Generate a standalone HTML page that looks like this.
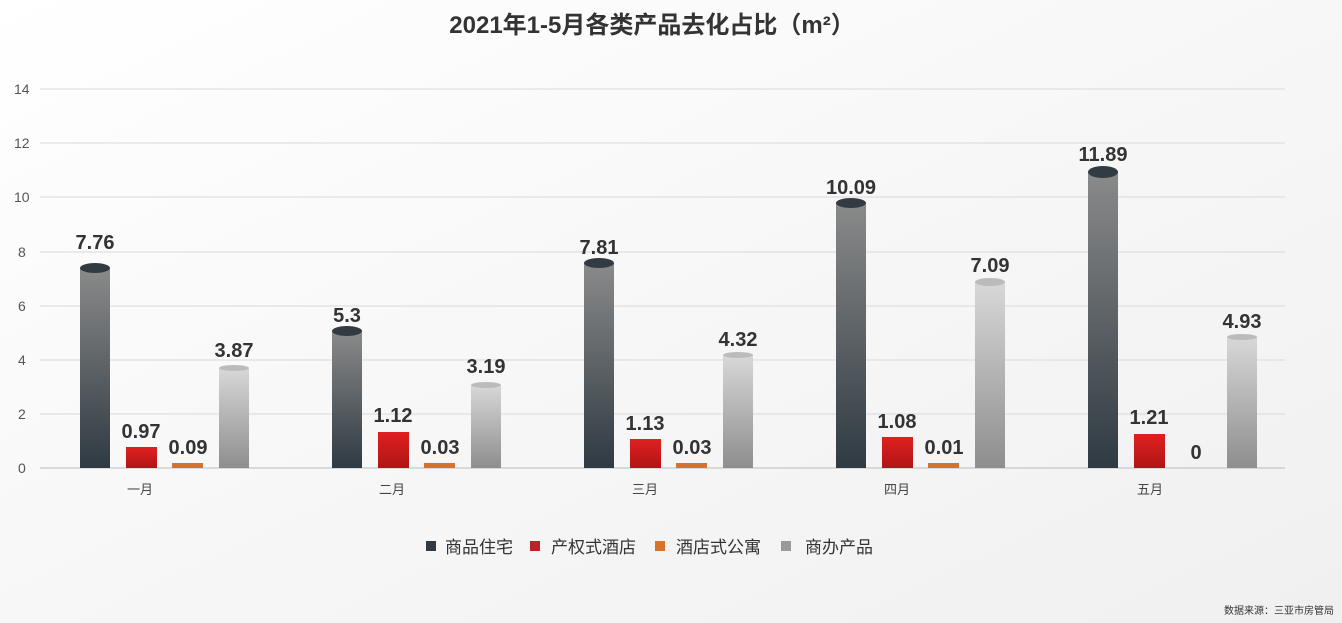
<!DOCTYPE html>
<html><head><meta charset="utf-8"><style>
body{margin:0;background:#fff;}
svg{display:block;font-family:"Liberation Sans","Noto Sans CJK SC",sans-serif;}
</style></head><body>
<svg width="1342" height="623" viewBox="0 0 1342 623" xmlns="http://www.w3.org/2000/svg">
<defs>
<linearGradient id="bg" x1="0" y1="0" x2="1" y2="1"><stop offset="0" stop-color="#ffffff"/><stop offset="0.5" stop-color="#f7f7f7"/><stop offset="1" stop-color="#f0f0f0"/></linearGradient>
<linearGradient id="gd" x1="0" y1="0" x2="0" y2="1"><stop offset="0" stop-color="#8a8a8a"/><stop offset="1" stop-color="#2f3a42"/></linearGradient>
<linearGradient id="gl" x1="0" y1="0" x2="0" y2="1"><stop offset="0" stop-color="#d8d8d8"/><stop offset="1" stop-color="#8e8e8e"/></linearGradient>
<linearGradient id="gr" x1="0" y1="0" x2="0" y2="1"><stop offset="0" stop-color="#e02020"/><stop offset="1" stop-color="#b01515"/></linearGradient>
</defs>
<rect width="1342" height="623" fill="url(#bg)"/>
<text x="652" y="33" text-anchor="middle" font-size="24" font-weight="bold" fill="#333">2021年1-5月各类产品去化占比（m²）</text>
<g stroke="#d9d9d9" stroke-width="1">
<line x1="40" y1="89" x2="1285" y2="89"/><line x1="40" y1="143" x2="1285" y2="143"/><line x1="40" y1="197" x2="1285" y2="197"/><line x1="40" y1="252" x2="1285" y2="252"/><line x1="40" y1="306" x2="1285" y2="306"/><line x1="40" y1="360" x2="1285" y2="360"/><line x1="40" y1="414" x2="1285" y2="414"/><line x1="40" y1="468" x2="1285" y2="468" stroke="#bbb"/>
</g>
<g font-size="14" fill="#555" text-anchor="start">
<text x="14" y="94">14</text><text x="14" y="148">12</text><text x="14" y="202">10</text><text x="18" y="257">8</text><text x="18" y="311">6</text><text x="18" y="365">4</text><text x="18" y="419">2</text><text x="18" y="473">0</text>
</g>
<g id="bars">
<rect x="80" y="268" width="30" height="200" fill="url(#gd)"/><ellipse cx="95" cy="268" rx="15" ry="5" fill="#333b42"/>
<rect x="126" y="447" width="31" height="21" fill="url(#gr)"/>
<rect x="172" y="463" width="31" height="5" fill="#d5722e"/>
<rect x="219" y="368" width="30" height="100" fill="url(#gl)"/><ellipse cx="234" cy="368" rx="15" ry="3" fill="#bbb"/>
<rect x="332" y="331" width="30" height="137" fill="url(#gd)"/><ellipse cx="347" cy="331" rx="15" ry="5" fill="#333b42"/>
<rect x="378" y="432" width="31" height="36" fill="url(#gr)"/>
<rect x="424" y="463" width="31" height="5" fill="#d5722e"/>
<rect x="471" y="385" width="30" height="83" fill="url(#gl)"/><ellipse cx="486" cy="385" rx="15" ry="3" fill="#bbb"/>
<rect x="584" y="263" width="30" height="205" fill="url(#gd)"/><ellipse cx="599" cy="263" rx="15" ry="5" fill="#333b42"/>
<rect x="630" y="439" width="31" height="29" fill="url(#gr)"/>
<rect x="676" y="463" width="31" height="5" fill="#d5722e"/>
<rect x="723" y="355" width="30" height="113" fill="url(#gl)"/><ellipse cx="738" cy="355" rx="15" ry="3" fill="#bbb"/>
<rect x="836" y="203" width="30" height="265" fill="url(#gd)"/><ellipse cx="851" cy="203" rx="15" ry="5" fill="#333b42"/>
<rect x="882" y="437" width="31" height="31" fill="url(#gr)"/>
<rect x="928" y="463" width="31" height="5" fill="#d5722e"/>
<rect x="975" y="282" width="30" height="186" fill="url(#gl)"/><ellipse cx="990" cy="282" rx="15" ry="4" fill="#bbb"/>
<rect x="1088" y="172" width="30" height="296" fill="url(#gd)"/><ellipse cx="1103" cy="172" rx="15" ry="6" fill="#333b42"/>
<rect x="1134" y="434" width="31" height="34" fill="url(#gr)"/>
<rect x="1227" y="337" width="30" height="131" fill="url(#gl)"/><ellipse cx="1242" cy="337" rx="15" ry="3" fill="#bbb"/>
</g>
<g font-size="20" font-weight="bold" fill="#333" text-anchor="middle">
<text x="95" y="249">7.76</text><text x="141" y="438">0.97</text><text x="188" y="454">0.09</text><text x="234" y="357">3.87</text>
<text x="347" y="322">5.3</text><text x="393" y="422">1.12</text><text x="440" y="454">0.03</text><text x="486" y="373">3.19</text>
<text x="599" y="254">7.81</text><text x="645" y="430">1.13</text><text x="692" y="454">0.03</text><text x="738" y="346">4.32</text>
<text x="851" y="194">10.09</text><text x="897" y="428">1.08</text><text x="944" y="454">0.01</text><text x="990" y="272">7.09</text>
<text x="1103" y="161">11.89</text><text x="1149" y="424">1.21</text><text x="1196" y="459">0</text><text x="1242" y="328">4.93</text>
</g>
<g font-size="13" fill="#444" text-anchor="middle">
<text x="140" y="494">一月</text><text x="392" y="494">二月</text><text x="645" y="494">三月</text><text x="897" y="494">四月</text><text x="1150" y="494">五月</text>
</g>
<g font-size="17" fill="#333">
<rect x="426" y="541" width="10" height="10" fill="#333b42"/><text x="445" y="553">商品住宅</text>
<rect x="530" y="541" width="10" height="10" fill="#c0202a"/><text x="551" y="553">产权式酒店</text>
<rect x="655" y="541" width="10" height="10" fill="#d5722e"/><text x="676" y="553">酒店式公寓</text>
<rect x="781" y="541" width="10" height="10" fill="#9a9a9a"/><text x="805" y="553">商办产品</text>
</g>
<text x="1334" y="614" text-anchor="end" font-size="10" fill="#333">数据来源：三亚市房管局</text>
</svg>
</body></html>
